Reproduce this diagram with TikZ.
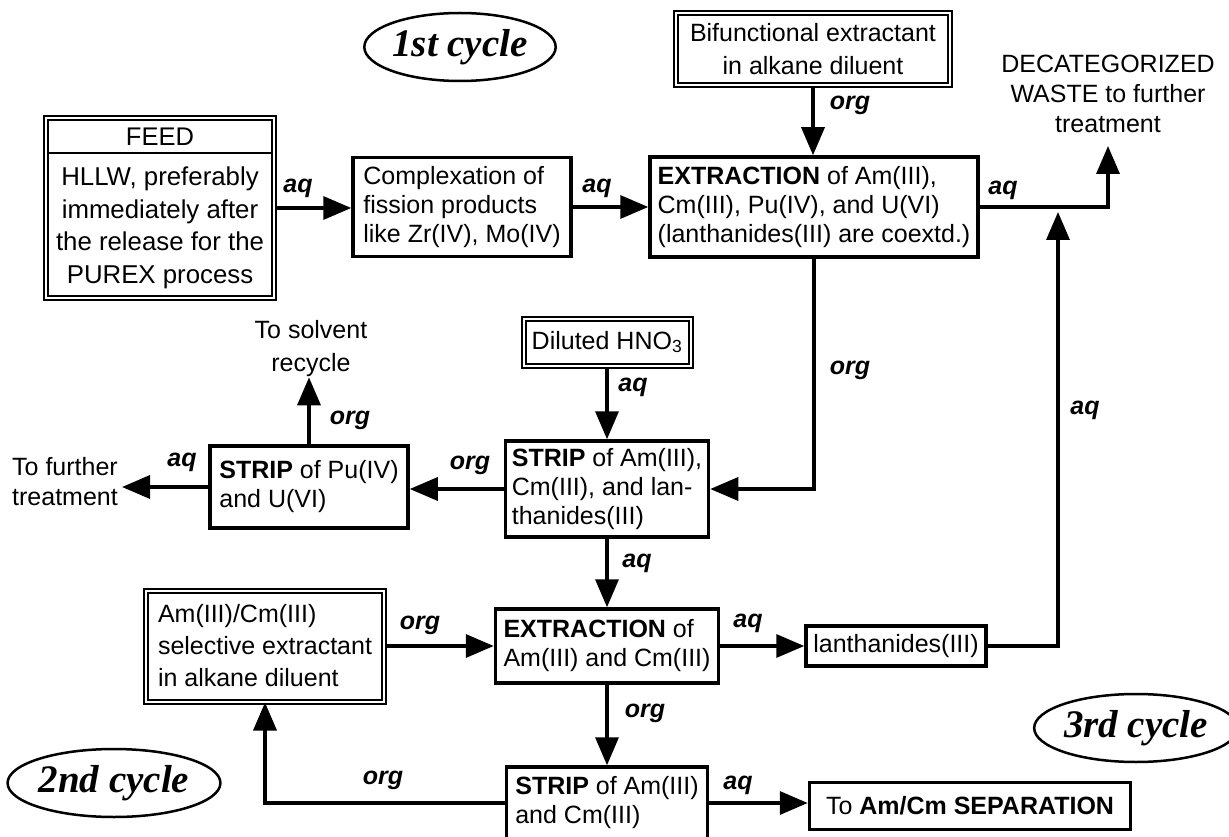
\documentclass[tikz,border=0pt]{standalone}
\usepackage{fontspec}
\setmainfont{Liberation Sans}
\newfontfamily\cycfont{Liberation Serif}
\usetikzlibrary{arrows.meta,shapes.geometric}
\newcommand\myfs{\fontsize{25}{29}\selectfont}
\begin{document}
\begin{tikzpicture}[x=1pt,y=-1pt,
  box/.style={draw, line width=3.5pt, inner sep=0pt, align=left, font=\myfs},
  dbox/.style={draw, double, double distance=2pt, line width=2pt, inner sep=0pt, font=\myfs},
  txt/.style={inner sep=0pt, font=\myfs, align=center},
  lbl/.style={inner sep=0pt, font=\myfs\bfseries\itshape},
  cyc/.style={draw, ellipse, line width=2.5pt, inner sep=0pt, minimum width=174pt, minimum height=68pt, font=\cycfont\fontsize{39}{39}\selectfont\bfseries\itshape},
  flow/.style={line width=3.5pt, -{Triangle[length=28pt,width=23pt]}},
]
\fill[white] (0,0) rectangle (1229,837);
\useasboundingbox (0,0) rectangle (1229,837);

% first cycle
\node[cyc] (c1) at (460,47) {1st cycle};
\node[dbox, minimum width=228pt, minimum height=180pt] (feed) at (160,208) {};
\coordinate (fhl) at (47,153);
\coordinate (fhr) at (273,153);
\draw[line width=2.2pt] (fhl) -- (fhr);
\node[txt, font=\fontsize{25.5}{29}\selectfont] (feedhd) at (160,137) {FEED};
\node[txt, font=\fontsize{25.8}{32.5}\selectfont] (feedtx) at (160,228) {HLLW, preferably\\immediately after\\the release for the\\PUREX process};

\node[box, minimum width=218pt, minimum height=99pt] (cplx) at (462,207) {Complexation of\\fission products\\like Zr(IV), Mo(IV)};
\node[box, minimum width=328pt, minimum height=100pt] (ex1) at (814,207) {\textbf{EXTRACTION} of Am(III),\\Cm(III), Pu(IV), and U(VI)\\(lanthanides(III) are coextd.)};
\node[dbox, minimum width=274pt, minimum height=72pt, align=center, font=\fontsize{25}{33}\selectfont] (bif) at (813,49) {Bifunctional extractant\\in alkane diluent};
\node[txt, font=\fontsize{25}{30}\selectfont] (dec) at (1108,94) {DECATEGORIZED\\WASTE to further\\treatment};
\coordinate (decin) at (1108,146);

% middle
\node[dbox, minimum width=167pt, minimum height=47pt] (hno) at (607,342) {Diluted HNO\textsubscript{3}};
\node[box, minimum width=203pt, minimum height=96pt] (sA) at (607,489) {\textbf{STRIP} of Am(III),\\Cm(III), and lan-\\thanides(III)};
\node[box, minimum width=198pt, minimum height=82pt] (sP) at (309,487) {\textbf{STRIP} of Pu(IV)\\and U(VI)};
\node[txt, font=\fontsize{25}{33}\selectfont] (solv) at (311,349) {To solvent\\recycle};
\node[txt, align=left, anchor=west, inner xsep=4pt, font=\fontsize{25}{30}\selectfont] (furt) at (8,482) {To further\\treatment};

% second cycle
\node[dbox, minimum width=238pt, minimum height=111pt, align=left, font=\fontsize{25}{32}\selectfont] (sel) at (265,646) {Am(III)/Cm(III)\\selective extractant\\in alkane diluent};
\node[box, minimum width=223pt, minimum height=74pt] (ex2) at (607,646) {\textbf{EXTRACTION} of\\Am(III) and Cm(III)};
\node[box, minimum width=180pt, minimum height=40pt] (lan) at (896,646) {lanthanides(III)};
\coordinate (j) at (1058,212);
\node[box, minimum width=201pt, minimum height=72pt] (sC) at (607,803) {\textbf{STRIP} of Am(III)\\and Cm(III)};
\node[box, minimum width=321pt, minimum height=47pt] (sep) at (970,806) {To \textbf{Am/Cm SEPARATION}};
\node[cyc] (c2) at (114,783) {2nd cycle};
\node[cyc] (c3) at (1136,728) {3rd cycle};

% connectors
\draw[flow] (feed.east) -- (feed.east -| cplx.west);
\draw[flow] (cplx.east) -- (cplx.east -| ex1.west);
\draw[flow] (bif.south) -- (bif.south |- ex1.north);
\draw[flow] (ex1.east) -| (decin);
\draw[flow] (lan.east) -| (j);
\draw[flow] (ex1.south) |- (sA.east);
\draw[flow] (hno.south) -- (sA.north);
\draw[flow] (sA.west) -- (sA.west -| sP.east);
\draw[flow] (sP.north) -- (sP.north |- solv.south);
\draw[flow] (sP.west) -- (sP.west -| furt.east);
\draw[flow] (sA.south) -- (ex2.north);
\draw[flow] (sel.east) -- (ex2.west);
\draw[flow] (ex2.east) -- (lan.west);
\draw[flow] (ex2.south) -- (sC.north);
\draw[flow] (sC.east) -- (sC.east -| sep.west);
\draw[flow] (sC.west) -| (sel.south);

% labels
\node[lbl] (l1) at (298,188) {aq};
\node[lbl] (l2) at (597,188) {aq};
\node[lbl] (l3) at (850,105) {org};
\node[lbl] (l4) at (1003,190) {aq};
\node[lbl] (l5) at (850,370) {org};
\node[lbl] (l6) at (1085,410) {aq};
\node[lbl] (l7) at (633,387) {aq};
\node[lbl] (l8) at (470,465) {org};
\node[lbl] (l9) at (350,420) {org};
\node[lbl] (l10) at (182,462) {aq};
\node[lbl] (l11) at (637,563) {aq};
\node[lbl] (l12) at (748,623) {aq};
\node[lbl] (l13) at (645,713) {org};
\node[lbl] (l14) at (738,785) {aq};
\node[lbl] (l15) at (420,625) {org};
\node[lbl] (l16) at (383,780) {org};
\end{tikzpicture}
\end{document}
